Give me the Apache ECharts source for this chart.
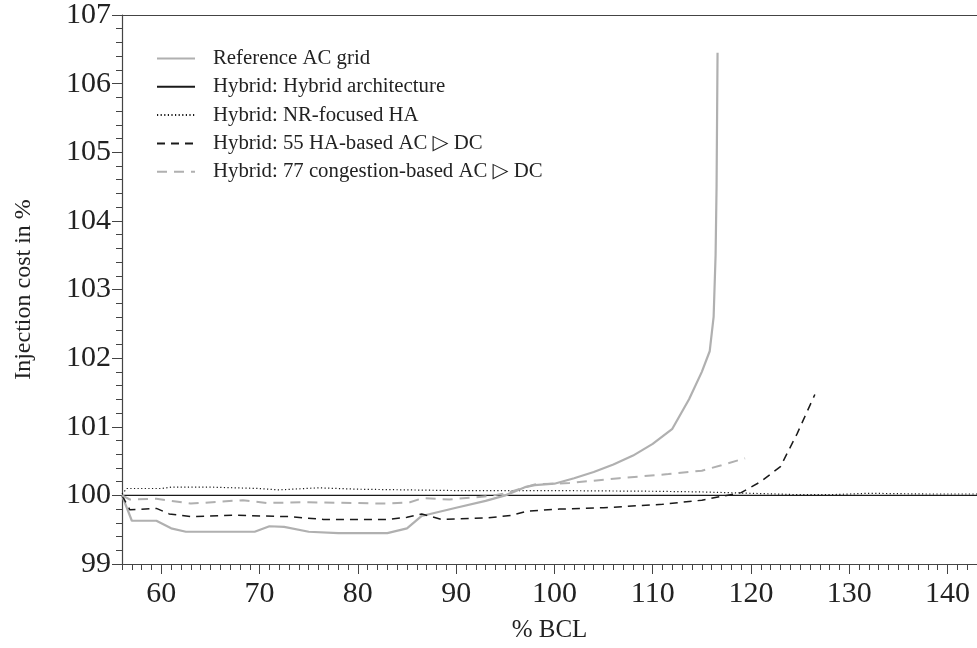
<!DOCTYPE html>
<html>
<head>
<meta charset="utf-8">
<script src="https://cdn.jsdelivr.net/npm/echarts@6/dist/echarts.min.js"></script>
<style>
html,body{margin:0;padding:0;background:#fff;}
#chart{width:977px;height:648px;}
</style>
</head>
<body>
<div id="chart"></div>
<script>
// ---- data ----
var seriesNames = [
  'Reference AC grid',
  'Hybrid: Hybrid architecture',
  'Hybrid: NR-focused HA',
  'Hybrid: 55 HA-based AC \u25B7 DC',
  'Hybrid: 77 congestion-based AC \u25B7 DC'
];
var refX = [56,57,59.5,61,62.5,69.5,71,72.5,75,78,83,85,86.5,90,93,95,97,98,100,102,104,106,108,110,112,113.7,115,115.8,116.2,116.4,116.5,116.6];
var refY = [100,99.63,99.63,99.52,99.47,99.47,99.55,99.54,99.47,99.45,99.45,99.52,99.7,99.82,99.92,100.0,100.12,100.15,100.17,100.25,100.34,100.45,100.58,100.75,100.97,101.4,101.8,102.1,102.6,103.5,104.5,106.45];
var hybX = [56,143];
var hybY = [100,100];
var nrX = [56,56.5,60,61,65,70,72,76,80,90,100,110,115,120,125,128,132,138,143];
var nrY = [100.02,100.1,100.1,100.12,100.12,100.1,100.08,100.11,100.09,100.07,100.07,100.06,100.05,100.03,100.01,100.01,100.03,100.02,100.02];
var ha55X = [56,56.8,59.5,60.8,63,67.5,73,76.5,83,85,86.5,88.5,93,95.7,97.2,100.5,105,111,115,119,121,123,124.7,126.5];
var ha55Y = [100,99.79,99.81,99.73,99.69,99.71,99.69,99.65,99.65,99.68,99.73,99.65,99.67,99.71,99.77,99.8,99.82,99.87,99.93,100.04,100.2,100.42,100.9,101.47];
var cg77X = [56,56.8,59.5,63,68.3,70.7,75,83,85.3,86.6,89.3,93.4,95,98,101.5,106.6,111.6,115,117,119.4];
var cg77Y = [100,99.94,99.95,99.88,99.93,99.89,99.9,99.88,99.9,99.96,99.94,99.99,100.03,100.16,100.18,100.25,100.31,100.36,100.44,100.54];
var xRange = {min:56, max:143};
var xMajorTicks = [60,70,80,90,100,110,120,130,140];
var yTicks = {min:99, max:107, interval:1};

function pairs(xs, ys){ return xs.map(function(x,i){ return [x, ys[i]]; }); }

var FONT = '"Liberation Serif", "DejaVu Serif", serif';
var AX = '#444';
var TXT = '#222';

var chart = echarts.init(document.getElementById('chart'), null, {renderer:'canvas'});
chart.setOption({
  animation:false,
  backgroundColor:'#fff',
  textStyle:{fontFamily:FONT},
  grid:{left:122, right:0, top:15, bottom:82, containLabel:false},
  legend:{
    orient:'vertical', left:151, top:43,
    itemWidth:38, itemHeight:14, itemGap:7.3,
    itemStyle:{opacity:0},
    textStyle:{fontFamily:FONT, fontSize:20.8, lineHeight:20, color:TXT, padding:[0,0,0,13]},
    data:seriesNames.map(function(n){return {name:n};})
  },
  xAxis:[{
    // minor ticks every 1 unit
    type:'value', min:xRange.min, max:xRange.max, interval:1,
    axisLabel:{show:false},
    axisLine:{show:true, onZero:false, lineStyle:{color:AX, width:1.2}},
    axisTick:{show:true, length:6, lineStyle:{color:AX, width:1}},
    splitLine:{show:false},
    name:'% BCL', nameLocation:'middle', nameGap:54,
    nameTextStyle:{fontFamily:FONT, fontSize:25, color:TXT}
  },{
    // major ticks + labels
    type:'value', position:'bottom', min:xRange.min, max:xRange.max,
    axisLabel:{show:true, customValues:xMajorTicks, fontFamily:FONT, fontSize:30, color:TXT, margin:15},
    axisLine:{show:false, onZero:false},
    axisTick:{show:true, customValues:xMajorTicks, length:10, lineStyle:{color:AX, width:1}},
    splitLine:{show:false}
  },{
    type:'value', position:'top', min:xRange.min, max:xRange.max,
    axisLine:{show:true, onZero:false, lineStyle:{color:AX, width:1.2}},
    axisTick:{show:false}, axisLabel:{show:false}, splitLine:{show:false}
  }],
  yAxis:{
    type:'value', min:yTicks.min, max:yTicks.max, interval:yTicks.interval,
    axisLabel:{fontFamily:FONT, fontSize:30, color:TXT, margin:11},
    axisLine:{show:true, onZero:false, lineStyle:{color:AX, width:1.2}},
    axisTick:{show:true, length:10, lineStyle:{color:AX, width:1}},
    minorTick:{show:true, splitNumber:5, length:6, lineStyle:{color:AX, width:1}},
    splitLine:{show:false},
    name:'Injection cost in %', nameLocation:'middle', nameGap:86,
    nameTextStyle:{fontFamily:FONT, fontSize:24, color:TXT}
  },
  series:[
    {name:seriesNames[0], type:'line', data:pairs(refX,refY), showSymbol:false, symbol:'none',
     lineStyle:{color:'#b0b0b0', width:2.2}, itemStyle:{color:'#b0b0b0'}, z:3},
    {name:seriesNames[1], type:'line', data:pairs(hybX,hybY), showSymbol:false, symbol:'none',
     lineStyle:{color:'#1a1a1a', width:1.4}, itemStyle:{color:'#1a1a1a'}, z:2},
    {name:seriesNames[2], type:'line', data:pairs(nrX,nrY), showSymbol:false, symbol:'none',
     lineStyle:{color:'#1a1a1a', width:1.2, type:[1.2,2.4]}, itemStyle:{color:'#1a1a1a'}, z:2},
    {name:seriesNames[3], type:'line', data:pairs(ha55X,ha55Y), showSymbol:false, symbol:'none',
     lineStyle:{color:'#1a1a1a', width:1.5, type:[8,6]}, itemStyle:{color:'#1a1a1a'}, z:4},
    {name:seriesNames[4], type:'line', data:pairs(cg77X,cg77Y), showSymbol:false, symbol:'none',
     lineStyle:{color:'#b0b0b0', width:2, type:[10,7]}, itemStyle:{color:'#b0b0b0'}, z:4}
  ]
});
</script>
</body>
</html>
